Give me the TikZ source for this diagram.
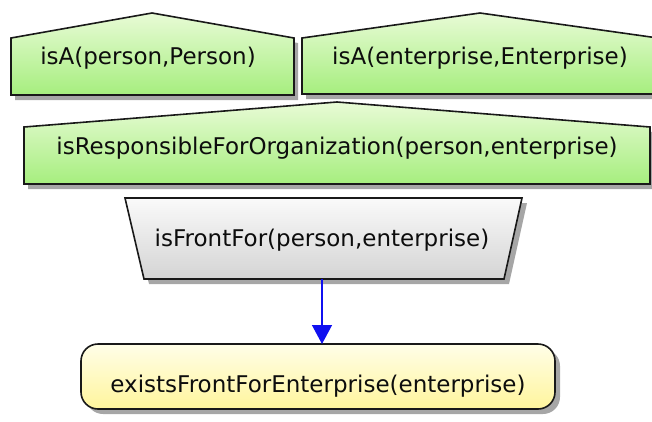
\documentclass[tikz,border=0pt]{standalone}
\usepackage{fontspec}
\setmainfont{DejaVu Sans}
\usetikzlibrary{arrows.meta,shadows}
\definecolor{greenTop}{HTML}{E8FBD6}
\definecolor{greenBot}{HTML}{A6EE7E}
\definecolor{yelTop}{HTML}{FFFEE8}
\definecolor{yelBot}{HTML}{FFF59C}
\definecolor{greyTop}{HTML}{FAFAFA}
\definecolor{greyBot}{HTML}{D4D4D4}
\definecolor{arrowBlue}{HTML}{1010F0}
\tikzset{
  boxline/.style={draw=black!90, line width=1.6pt, line join=miter},
  greenfill/.style={boxline, top color=greenTop, bottom color=greenBot,
     drop shadow={shadow xshift=4pt, shadow yshift=-5pt, opacity=0.35, fill=black}},
  greyfill/.style={boxline, top color=greyTop, bottom color=greyBot,
     drop shadow={shadow xshift=5pt, shadow yshift=-5pt, opacity=0.35, fill=black}},
  yelfill/.style={boxline, top color=yelTop, bottom color=yelBot,
     drop shadow={shadow xshift=5pt, shadow yshift=-5pt, opacity=0.35, fill=black}},
  label/.style={font=\fontsize{23}{26}\selectfont, text=black!95, inner sep=0pt},
  area/.style={inner sep=0pt, outer sep=0pt},
  conn/.style={draw=arrowBlue, line width=1.4pt, -{Triangle[width=20pt,length=19pt]}, arrowBlue}
}
\begin{document}
\begin{tikzpicture}[x=1pt,y=-1pt]
\useasboundingbox (0,0) rectangle (652,421);
\begin{scope}
\clip (0,0) rectangle (652,421);
% house shapes
\path[greenfill] (11,95) -- (11,38) -- (152,13) -- (294,38) -- (294,95) -- cycle;
\path[greenfill] (302,94) -- (302,38) -- (480,13) -- (658,38) -- (658,94) -- cycle;
\path[greenfill] (24,184) -- (24,127) -- (337,102) -- (650,127) -- (650,184) -- cycle;
% trapezoid
\path[greyfill] (125,198) -- (522,198) -- (504,279) -- (144,279) -- cycle;
% rounded box
\path[yelfill, rounded corners=17pt] (81,344) rectangle (555,409);
\end{scope}
% text nodes
\node[label] (isaP) at (148,58) {isA(person,Person)};
\node[label] (isaE) at (480,58) {isA(enterprise,Enterprise)};
\node[label] (resp) at (337,148) {isResponsibleForOrganization(person,enterprise)};
\node[label] (frontText) at (322,240) {isFrontFor(person,enterprise)};
\node[label] (existsText) at (318,386) {existsFrontForEnterprise(enterprise)};
% anchor nodes for connector
\node[area, minimum width=360pt, minimum height=81pt] (front) at (323,238.5) {};
\node[area, minimum width=474pt, minimum height=65pt] (exists) at (318,376.5) {};
\draw[conn] (front.south) ++(-1,0) coordinate (fs) (fs) -- (fs |- exists.north);
\end{tikzpicture}
\end{document}
